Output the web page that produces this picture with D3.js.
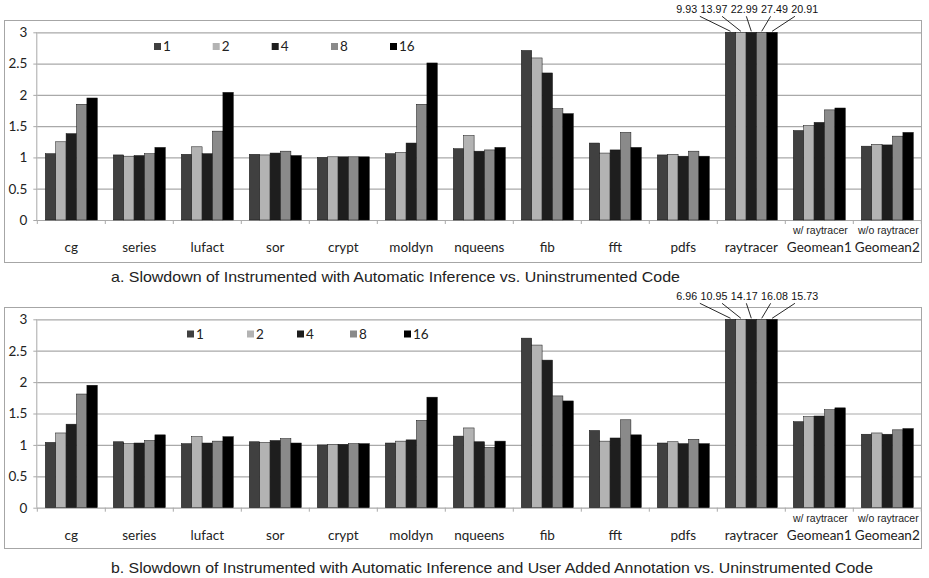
<!DOCTYPE html>
<html>
<head>
<meta charset="utf-8">
<script src="https://cdn.jsdelivr.net/npm/d3@7/dist/d3.min.js"></script>
<style>
  html, body { margin: 0; padding: 0; background: #fff; }
  svg { display: block; }
</style>
</head>
<body>
<svg id="chart" width="929" height="578"></svg>
<script>
// ---------------- DATA ----------------
const categories = ["cg", "series", "lufact", "sor", "crypt", "moldyn", "nqueens", "fib", "fft", "pdfs", "raytracer", "Geomean1", "Geomean2"];
const subLabels = ["", "", "", "", "", "", "", "", "", "", "", "w/ raytracer", "w/o raytracer"];
const seriesNames = ["1", "2", "4", "8", "16"];
const seriesColors = ["#404040", "#b3b3b3", "#1e1e1e", "#8a8a8a", "#000000"];
const yTicks = [0, 0.5, 1, 1.5, 2, 2.5, 3];

// Chart a: Automatic Inference
const autoT1  = [1.06, 1.04, 1.05, 1.05, 1.00, 1.06, 1.14, 2.71, 1.23, 1.04, 9.93, 1.43, 1.18];
const autoT2  = [1.25, 1.02, 1.17, 1.04, 1.01, 1.08, 1.35, 2.59, 1.07, 1.05, 13.97, 1.51, 1.21];
const autoT4  = [1.38, 1.03, 1.06, 1.07, 1.01, 1.23, 1.10, 2.35, 1.12, 1.02, 22.99, 1.56, 1.20];
const autoT8  = [1.85, 1.06, 1.42, 1.10, 1.01, 1.85, 1.12, 1.78, 1.40, 1.10, 27.49, 1.76, 1.34];
const autoT16 = [1.95, 1.16, 2.04, 1.03, 1.01, 2.51, 1.16, 1.70, 1.16, 1.02, 20.91, 1.79, 1.40];

// Chart b: Automatic Inference + User Added Annotation
const annotT1  = [1.04, 1.05, 1.02, 1.05, 1.00, 1.03, 1.14, 2.70, 1.23, 1.03, 6.96, 1.37, 1.17];
const annotT2  = [1.19, 1.02, 1.13, 1.04, 1.01, 1.06, 1.27, 2.59, 1.06, 1.05, 10.95, 1.45, 1.19];
const annotT4  = [1.33, 1.03, 1.03, 1.07, 1.01, 1.08, 1.05, 2.35, 1.11, 1.02, 14.17, 1.46, 1.17];
const annotT8  = [1.81, 1.07, 1.06, 1.10, 1.02, 1.39, 0.96, 1.78, 1.40, 1.09, 16.08, 1.56, 1.24];
const annotT16 = [1.95, 1.16, 1.13, 1.03, 1.02, 1.76, 1.06, 1.70, 1.16, 1.02, 15.73, 1.59, 1.26];

const captionA = "a. Slowdown of Instrumented  with Automatic Inference vs. Uninstrumented Code";
const captionB = "b. Slowdown of Instrumented  with Automatic Inference and User Added Annotation vs. Uninstrumented Code";

// ---------------- DRAWING ----------------
const svg = d3.select("#chart");
const labelFont = "Lato, 'Open Sans', sans-serif";
const arialFont = "'Liberation Sans', Arial, Helvetica, sans-serif";

function drawChart(opt) {
  const series = opt.series;
  const g = svg.append("g");

  // frame
  g.append("rect")
    .attr("x", opt.box[0] + 0.5).attr("y", opt.box[1] + 0.5)
    .attr("width", opt.box[2] - opt.box[0]).attr("height", opt.box[3] - opt.box[1])
    .attr("fill", "none").attr("stroke", "#a6a6a6").attr("stroke-width", 1);

  const x0 = d3.scaleBand().domain(categories).range([opt.left, opt.right]).paddingInner(0).paddingOuter(0);
  const x1 = d3.scaleBand().domain(seriesNames).range([8, x0.bandwidth() - 8]).padding(0);
  const y = d3.scaleLinear().domain([0, 3]).range([opt.y0, opt.y3]);

  // gridlines
  const grid = g.append("g").attr("transform", `translate(${opt.left},0)`)
    .call(d3.axisLeft(y).tickValues(yTicks).tickSize(-(opt.right - opt.left)).tickFormat(""));
  grid.select(".domain").remove();
  grid.selectAll(".tick line").attr("stroke", "#a9a9a9").attr("stroke-width", 1.2);

  // y axis
  const ya = g.append("g").attr("transform", `translate(${opt.left},0)`)
    .call(d3.axisLeft(y).tickValues(yTicks).tickSize(4).tickPadding(6).tickFormat(d3.format("")));
  ya.select(".domain").attr("stroke", "#a9a9a9").attr("d", `M-0.5,${opt.y0}V${opt.y3}`);
  ya.selectAll(".tick line").attr("stroke", "#a9a9a9");
  ya.selectAll(".tick text").attr("font-family", labelFont).attr("font-size", 13.5).attr("fill", "#222");

  // x axis ticks at category boundaries
  const bounds = categories.map(c => x0(c)).concat([opt.right]);
  g.append("g").selectAll("line").data(bounds).join("line")
    .attr("x1", d => d).attr("x2", d => d)
    .attr("y1", opt.y0).attr("y2", opt.y0 + 4)
    .attr("stroke", "#a9a9a9");

  // bars
  const rows = categories.map((c, i) => ({ cat: c, vals: series.map((s, j) => ({ name: seriesNames[j], v: s[i], j })) }));
  const grp = g.append("g").selectAll("g").data(rows).join("g")
    .attr("transform", d => `translate(${x0(d.cat)},0)`);
  grp.selectAll("rect").data(d => d.vals).join("rect")
    .attr("x", d => x1(d.name))
    .attr("width", x1.bandwidth())
    .attr("y", d => y(Math.min(d.v, 3)))
    .attr("height", d => y(0) - y(Math.min(d.v, 3)))
    .attr("fill", d => seriesColors[d.j])
    .attr("stroke", "#111").attr("stroke-width", 0.5);

  // category labels
  g.append("g").selectAll("text").data(categories).join("text")
    .attr("x", c => x0(c) + x0.bandwidth() / 2)
    .attr("y", opt.y0 + 32)
    .attr("text-anchor", "middle")
    .attr("font-family", labelFont).attr("font-size", 13.5).attr("fill", "#222")
    .text(c => c);

  g.append("g").selectAll("text").data(categories.map((c, i) => ({ c, s: subLabels[i] })).filter(d => d.s)).join("text")
    .attr("x", d => x0(d.c) + x0.bandwidth() / 2 + 1)
    .attr("y", opt.y0 + 14)
    .attr("text-anchor", "middle")
    .attr("font-family", arialFont).attr("font-size", 10.5).attr("fill", "#222")
    .text(d => d.s);

  // overflow labels with leader lines
  const over = [];
  rows.forEach(r => r.vals.forEach(v => { if (v.v > 3) over.push({ cat: r.cat, name: v.name, v: v.v }); }));
  const fmt = d3.format(".2f");
  const labelG = g.append("g");
  let cursor = x0(over[0].cat) - 41;
  const baseY = y(3) - 19;
  over.forEach(d => {
    const t = labelG.append("text")
      .attr("x", cursor).attr("y", baseY)
      .attr("font-family", arialFont).attr("font-size", 10.7).attr("fill", "#111")
      .text(fmt(d.v));
    const w = t.node().getComputedTextLength();
    d.lc = cursor + w / 2;
    cursor += w + 3.5;
    d.bc = x0(d.cat) + x1(d.name) + x1.bandwidth() / 2;
  });
  labelG.selectAll("line").data(over).join("line")
    .attr("x1", d => d.lc + 0.3 * (d.bc - d.lc)).attr("y1", y(3) - 16)
    .attr("x2", d => d.bc).attr("y2", y(3) - 1)
    .attr("stroke", "#111").attr("stroke-width", 0.9);

  // legend
  const lg = g.append("g").selectAll("g").data(seriesNames).join("g")
    .attr("transform", (d, i) => `translate(${opt.legendX[i]},${opt.legendY})`);
  lg.append("rect").attr("x", 0).attr("y", -3.5).attr("width", 7).attr("height", 7)
    .attr("fill", (d, i) => seriesColors[i]);
  lg.append("text").attr("x", 9).attr("y", 0).attr("dy", "0.35em")
    .attr("font-family", labelFont).attr("font-size", 13.5).attr("fill", "#222")
    .text(d => d);

  // caption
  svg.append("text")
    .attr("x", 111).attr("y", opt.captionY)
    .attr("font-family", arialFont).attr("font-size", 15).attr("fill", "#222")
    .attr("textLength", opt.captionW).attr("lengthAdjust", "spacingAndGlyphs")
    .text(opt.caption);
}

drawChart({
  series: [autoT1, autoT2, autoT4, autoT8, autoT16],
  box: [4, 20, 921, 262],
  left: 37.3, right: 921.3,
  y0: 220, y3: 32.3,
  legendX: [154, 212.7, 271.7, 331, 390], legendY: 46.5,
  caption: captionA, captionY: 282, captionW: 569
});

drawChart({
  series: [annotT1, annotT2, annotT4, annotT8, annotT16],
  box: [4, 307, 921, 548],
  left: 37.3, right: 921.3,
  y0: 507.7, y3: 319.3,
  legendX: [187, 247, 297, 350, 404], legendY: 334,
  caption: captionB, captionY: 573, captionW: 762
});
</script>
</body>
</html>
